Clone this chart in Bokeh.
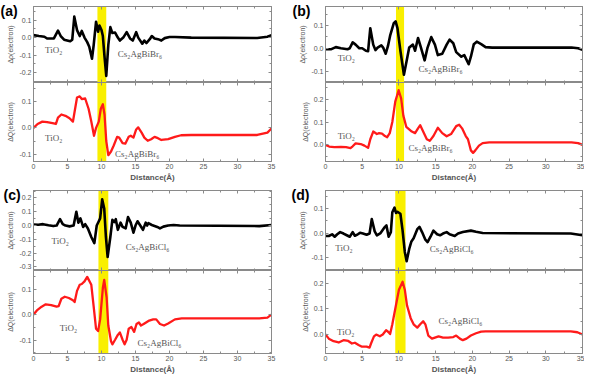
from bokeh.plotting import figure
from bokeh.layouts import row, column
from bokeh.models import Range1d, LinearAxis, FixedTicker, BoxAnnotation, Label, NumeralTickFormatter, Title
from bokeh.embed import file_html
from bokeh.resources import INLINE

# ---------------- data ----------------
x_ticks = [0, 5, 10, 15, 20, 25, 30, 35]

# (a) Cs2AgBiBr6 (top: delta rho, bottom: delta Q)
a_rho_x = [0, 0.8, 1.6, 2.0, 3.0, 3.6, 4.0, 4.5, 5.4, 5.7, 6.0, 6.4, 6.8, 7.1, 7.5, 7.9, 8.2, 8.6, 8.85,
           9.2, 9.5, 9.7, 10.0, 10.2, 10.45, 10.7, 11.0, 11.3, 11.6, 12.0, 12.4, 12.7, 13.2, 13.7, 14.2,
           14.6, 15.1, 15.4, 16.0, 16.3, 16.6, 17.1, 17.4, 17.8, 18.3, 18.8, 19.3, 20.0, 20.8, 23.2,
           32.9, 34.4, 35]
a_rho_y = [0.014, 0.009, 0.005, -0.005, -0.005, 0.040, 0.009, -0.012, -0.021, -0.012, 0.120, 0.043,
           0.009, 0.038, 0.0, -0.026, -0.052, -0.121, -0.043, 0.091, 0.034, 0.069, 0.043, 0.009, -0.112,
           -0.219, -0.043, 0.060, 0.026, 0.029, 0.0, -0.017, 0.0, 0.031, -0.005, -0.017, 0.031, 0.0,
           -0.035, -0.017, -0.031, -0.009, 0.009, -0.005, -0.009, -0.017, -0.003, 0.003, 0.003, 0.0,
           -0.002, 0.005, 0.014]
a_q_x = [0, 0.6, 1.3, 2.0, 2.8, 3.3, 3.6, 4.1, 4.7, 5.3, 5.8, 6.0, 6.4, 6.8, 7.1, 7.6, 8.1, 8.5, 8.9,
         9.2, 9.6, 9.9, 10.2, 10.45, 10.7, 11.0, 11.4, 11.8, 12.3, 12.6, 13.1, 13.5, 14.0, 14.3, 14.7,
         15.1, 15.4, 15.9, 16.3, 16.8, 17.3, 17.8, 18.3, 18.8, 19.8, 20.8, 21.7, 23.2, 32.9, 34.4, 35]
a_q_y = [0.0, 0.015, 0.024, 0.022, 0.018, 0.015, 0.039, 0.051, 0.046, 0.037, 0.024, 0.055, 0.116, 0.12,
         0.11, 0.112, 0.073, 0.024, -0.03, 0.0, 0.024, 0.073, 0.09, 0.05, -0.05, -0.104, -0.09, -0.067,
         -0.034, -0.037, -0.058, -0.06, -0.034, -0.03, -0.037, -0.006, 0.002, -0.018, -0.037, -0.049,
         -0.043, -0.034, -0.039, -0.046, -0.043, -0.034, -0.028, -0.027, -0.027, -0.018, -0.002]

# (b) Cs2AgBiBr6
b_rho_x = [0, 0.8, 1.4, 2.1, 3.0, 3.3, 3.7, 4.1, 4.6, 5.0, 5.5, 5.8, 6.1, 6.5, 6.8, 7.1, 7.6, 7.85, 8.2,
           8.5, 8.8, 9.3, 9.55, 9.8, 10.2, 10.68, 11.0, 11.4, 11.9, 12.2, 12.6, 13.0, 13.5, 13.9, 14.4,
           14.9, 15.3, 15.9, 16.5, 16.9, 17.4, 17.8, 18.5, 18.9, 19.5, 19.8, 20.2, 20.6, 21.2, 21.8,
           22.7, 33.5, 34.4, 35]
b_rho_y = [-0.004, -0.004, 0.005, 0.0, -0.004, 0.0, 0.026, 0.016, 0.0, 0.0, -0.011, -0.013, 0.088,
           0.016, -0.008, 0.003, 0.013, 0.003, -0.024, 0.009, 0.055, 0.11, 0.118, 0.088, -0.011, -0.116,
           -0.063, 0.003, 0.016, -0.011, 0.045, 0.003, -0.053, 0.003, 0.049, 0.016, -0.03, -0.024, 0.016,
           0.038, 0.022, -0.017, -0.037, -0.030, -0.070, -0.037, 0.018, 0.029, 0.018, 0.005, 0.003,
           0.003, 0.0, -0.007]
b_q_x = [0, 0.5, 1.2, 2.1, 2.8, 3.4, 3.7, 4.1, 4.8, 5.3, 5.8, 6.1, 6.5, 7.0, 7.3, 7.7, 8.1, 8.4, 8.75,
         9.1, 9.5, 9.96, 10.3, 10.6, 11.0, 11.4, 11.75, 12.2, 12.6, 12.9, 13.3, 13.8, 14.2, 14.7, 15.3,
         15.9, 16.5, 17.1, 17.8, 18.2, 18.6, 19.1, 19.4, 19.8, 20.1, 20.4, 20.9, 21.4, 22.3, 33.5,
         34.4, 35]
b_q_y = [-0.001, -0.008, -0.011, -0.010, -0.011, -0.015, -0.007, 0.006, 0.003, -0.004, -0.014, 0.024,
         0.058, 0.047, 0.051, 0.049, 0.038, 0.033, 0.051, 0.10, 0.19, 0.24, 0.204, 0.128, 0.079, 0.068,
         0.058, 0.051, 0.072, 0.086, 0.058, 0.024, 0.017, 0.038, 0.075, 0.051, 0.037, 0.047, 0.082,
         0.088, 0.072, 0.038, 0.024, -0.025, -0.036, -0.025, -0.004, 0.007, 0.010, 0.010, 0.007, -0.001]

# (c) Cs2AgBiCl6
c_rho_x = [0, 0.7, 1.4, 2.2, 2.9, 3.4, 3.9, 4.3, 4.7, 5.3, 5.9, 6.3, 6.6, 6.9, 7.3, 7.6, 8.0, 8.5, 8.95,
           9.3, 9.6, 9.8, 10.1, 10.4, 10.65, 10.9, 11.3, 11.6, 11.9, 12.1, 12.4, 12.8, 13.1, 13.55, 13.9,
           14.3, 14.7, 15.0, 15.3, 15.7, 16.1, 16.5, 16.7, 16.9, 17.4, 18.2, 18.6, 19.1, 19.8, 20.6,
           21.5, 33.2, 35]
c_rho_y = [0.008, 0.006, 0.010, 0.002, -0.004, 0.0, 0.046, 0.010, 0.0, -0.006, 0.0, 0.10, 0.021, 0.052,
           -0.010, 0.010, -0.021, -0.083, -0.128, 0.0, 0.031, 0.052, 0.19, 0.124, -0.083, -0.228, -0.083,
           0.041, 0.025, 0.046, -0.031, 0.021, -0.010, -0.021, 0.062, 0.021, -0.052, 0.0, 0.031, 0.0,
           -0.031, 0.021, 0.0, 0.017, 0.004, -0.010, -0.021, -0.008, 0.0, 0.004, 0.0, -0.004, 0.004]
c_q_x = [0, 0.5, 1.2, 1.8, 2.6, 3.4, 3.7, 4.1, 4.6, 5.2, 5.8, 6.05, 6.4, 6.8, 7.1, 7.5, 7.9, 8.5, 8.85,
         9.2, 9.5, 9.8, 10.2, 10.4, 10.75, 11.0, 11.4, 11.6, 12.0, 12.4, 12.7, 13.1, 13.4, 13.7, 14.0,
         14.4, 14.8, 15.15, 15.5, 15.8, 16.2, 16.9, 17.6, 18.05, 18.6, 19.2, 19.8, 20.8, 21.8, 33.2,
         34.4, 35]
c_q_y = [0.0, 0.016, 0.031, 0.040, 0.037, 0.031, 0.033, 0.062, 0.070, 0.065, 0.056, 0.049, 0.093, 0.117,
         0.12, 0.13, 0.148, 0.117, 0.031, -0.056, -0.065, -0.019, 0.105, 0.136, 0.068, -0.043, -0.105,
         -0.117, -0.099, -0.080, -0.070, -0.099, -0.117, -0.099, -0.056, -0.049, -0.068, -0.037, -0.031,
         -0.043, -0.037, -0.025, -0.019, -0.019, -0.037, -0.043, -0.035, -0.019, -0.015, -0.015, -0.012,
         0.0]

# (d) Cs2AgBiCl6
d_rho_x = [0, 0.45, 0.9, 1.25, 1.6, 2.0, 2.45, 2.9, 3.3, 3.7, 4.0, 4.4, 4.7, 5.1, 5.6, 6.0, 6.3, 6.7,
           7.0, 7.5, 8.0, 8.3, 8.6, 8.9, 9.1, 9.4, 9.6, 9.8, 10.2, 10.5, 10.8, 11.05, 11.4, 11.7, 12.0,
           12.5, 12.8, 13.15, 13.6, 13.9, 14.3, 14.7, 15.2, 15.6, 16.0, 16.5, 16.9, 17.6, 18.05, 18.7,
           19.8, 20.5, 21.4, 33.4, 35]
d_rho_y = [-0.012, -0.012, -0.005, -0.015, -0.005, 0.004, -0.002, -0.009, -0.015, 0.004, -0.011, -0.005,
           0.001, -0.002, -0.007, -0.002, 0.057, 0.007, -0.009, 0.0, 0.022, 0.031, -0.015, 0.004, 0.085,
           0.104, 0.082, 0.087, 0.079, 0.01, -0.077, -0.115, -0.065, -0.034, -0.021, 0.016, 0.025, 0.004,
           -0.027, -0.037, -0.015, 0.01, -0.005, -0.009, -0.002, 0.004, -0.005, -0.012, -0.002, 0.004,
           0.01, 0.005, 0.0, -0.002, -0.009]
d_q_x = [0, 0.45, 1.1, 1.8, 2.45, 3.1, 3.6, 4.0, 4.5, 4.9, 5.6, 6.0, 6.2, 6.6, 6.9, 7.4, 7.8, 8.25, 8.6,
         8.8, 9.1, 9.6, 10.0, 10.5, 10.8, 11.1, 11.6, 12.0, 12.5, 12.9, 13.3, 13.6, 14.0, 14.5, 14.9,
         15.4, 16.0, 16.7, 17.4, 17.8, 18.3, 18.7, 19.2, 19.8, 20.5, 21.2, 21.8, 33.4, 34.3, 35]
d_q_y = [0.0, -0.016, -0.026, -0.031, -0.022, -0.025, -0.035, -0.032, -0.041, -0.047, -0.047, -0.051,
         -0.035, -0.007, 0.0, -0.007, 0.0, 0.017, 0.009, 0.002, 0.040, 0.115, 0.175, 0.206, 0.175, 0.114,
         0.064, 0.040, 0.027, 0.040, 0.052, 0.040, -0.004, -0.016, -0.012, -0.007, -0.012, -0.012, -0.010,
         -0.004, -0.016, -0.022, -0.016, -0.004, 0.005, 0.011, 0.012, 0.012, 0.009, 0.0]

# y tick values per sub-plot
a_rho_ticks = [-0.2, -0.1, 0.0, 0.1]
a_q_ticks = [-0.1, 0.0, 0.1]
b_rho_ticks = [-0.1, 0.0, 0.1]
b_q_ticks = [0.0, 0.1, 0.2]
c_rho_ticks = [-0.3, -0.2, -0.1, 0.0, 0.1, 0.2]
c_q_ticks = [-0.1, 0.0, 0.1]
d_rho_ticks = [-0.1, 0.0, 0.1]
d_q_ticks = [0.0, 0.1, 0.2]

# interface band (Angstrom)
a_band = [9.4, 10.7]
b_band = [9.6, 10.7]
c_band = [9.55, 11.0]
d_band = [9.5, 10.9]

# annotation texts and positions (data coordinates)
br_name = "Cs₂AgBiBr₆"
cl_name = "Cs₂AgBiCl₆"
tio2 = "TiO₂"
a_rho_notes = [(tio2, 1.7, -0.069), (br_name, 12.4, -0.095)]
a_q_notes = [(tio2, 1.7, -0.039), (br_name, 12.0, -0.098)]
b_rho_notes = [(tio2, 1.66, -0.041), (br_name, 12.65, -0.092)]
b_q_notes = [(tio2, 1.66, 0.0375), (br_name, 11.3, -0.014)]
c_rho_notes = [(tio2, 2.66, -0.114), (cl_name, 13.55, -0.155)]
c_q_notes = [(tio2, 3.87, -0.053), (cl_name, 15.3, -0.111)]
d_rho_notes = [(tio2, 1.34, -0.0625), (cl_name, 14.2, -0.065)]
d_q_notes = [(tio2, 1.56, 0.009), (cl_name, 15.4, 0.052)]

# ---------------- styling ----------------
AX = "#8a8a8a"
TXT = "#555555"
YEL = "#f9ef00"


def minor_of(ticks, step):
    lo, hi = min(ticks) - step, max(ticks) + step
    out = []
    v = lo
    while v <= hi + 1e-9:
        out.append(round(v + step / 2, 4))
        v += step
    return out


def add_axis(p, place, ticks, minor, labels, title=None, fmt=None):
    ax = LinearAxis(ticker=FixedTicker(ticks=ticks, minor_ticks=minor))
    ax.axis_line_color = AX
    ax.axis_line_width = 1
    ax.major_tick_line_color = AX
    ax.minor_tick_line_color = AX
    ax.major_tick_in = 3
    ax.major_tick_out = 0
    ax.minor_tick_in = 2
    ax.minor_tick_out = 0
    ax.major_label_text_font = "Liberation Sans"
    if labels:
        ax.major_label_text_font_size = "7px"
        ax.major_label_text_color = TXT
        ax.major_label_standoff = 2
        if fmt is not None:
            ax.formatter = fmt
    else:
        ax.major_label_text_font_size = "1px"
        ax.major_label_text_color = None
        ax.major_label_standoff = 0
    if title:
        ax.axis_label = title
        ax.axis_label_text_font = "Liberation Sans"
        ax.axis_label_text_color = TXT
        ax.axis_label_standoff = 2
        if place == "below":
            ax.axis_label_text_font_size = "8px"
            ax.axis_label_text_font_style = "bold"
            ax.axis_label_standoff = 1
        else:
            ax.axis_label_text_font_size = "7px"
            ax.axis_label_text_font_style = "normal"
    p.add_layout(ax, place)
    return ax


def make_sub(w, h, bl, br, bt, bb, yr, xs, ys, color, lw, yticks, band, notes, ytitle, bottom):
    p = figure(width=w, height=h, x_range=Range1d(0, 35), y_range=Range1d(*yr),
               output_backend="svg", toolbar_location=None,
               x_axis_location=None, y_axis_location=None,
               min_border_left=bl, min_border_right=br, min_border_top=bt, min_border_bottom=bb)
    p.outline_line_color = AX
    p.outline_line_width = 1
    p.grid.visible = False
    p.background_fill_color = "white"
    p.border_fill_color = "white"
    p.add_layout(BoxAnnotation(left=band[0], right=band[1], fill_color=YEL, fill_alpha=1.0,
                               line_color=None, level="underlay"))
    p.line(xs, ys, line_color=color, line_width=lw, line_join="round", line_cap="round")
    xminor = minor_of(x_ticks, 5)
    yminor = minor_of(yticks, 0.1)
    fmt = NumeralTickFormatter(format="0.0")
    add_axis(p, "left", yticks, yminor, True, ytitle, fmt=fmt)
    add_axis(p, "right", yticks, yminor, False)
    add_axis(p, "above", x_ticks, xminor, False)
    if bottom:
        add_axis(p, "below", x_ticks, xminor, True, "Distance(Å)")
    else:
        add_axis(p, "below", x_ticks, xminor, False)
    for t, x, y in notes:
        p.add_layout(Label(x=x, y=y, text=t, text_font="Liberation Serif", text_font_size="9px",
                           text_color=TXT, text_baseline="middle", text_align="left"))
    return p


def panel_letter(p, txt, offset):
    # two-line title (empty first line) with negative standoff: takes ~no room and
    # puts the letter beside the top-left corner of the frame
    t = Title(text="\n" + txt, align="left", offset=offset, standoff=-28, vertical_align="top",
              text_line_height=1.0,
              text_font="Liberation Sans", text_font_size="14px", text_font_style="bold",
              text_color="black")
    p.add_layout(t, "above")


RHO = "Δρ(electron)"
QQ = "ΔQ(electron)"

# left column
a_top = make_sub(290, 82, 33, 19, 1, 0, (-0.257, 0.178), a_rho_x, a_rho_y, "black", 2.6,
                 a_rho_ticks, a_band, a_rho_notes, RHO, False)
a_bot = make_sub(290, 102, 33, 19, 0, 22, (-0.128, 0.173), a_q_x, a_q_y, "#ff1a1a", 2.3,
                 a_q_ticks, a_band, a_q_notes, QQ, True)
c_top = make_sub(290, 86, 30, 19, 2, 0, (-0.326, 0.254), c_rho_x, c_rho_y, "black", 2.6,
                 c_rho_ticks, c_band, c_rho_notes, RHO, False)
c_bot = make_sub(290, 106, 30, 19, 0, 22, (-0.153, 0.173), c_q_x, c_q_y, "#ff1a1a", 2.3,
                 c_q_ticks, c_band, c_q_notes, QQ, True)
# right column
b_top = make_sub(294, 82, 35, 2, 1, 0, (-0.15, 0.183), b_rho_x, b_rho_y, "black", 2.6,
                 b_rho_ticks, b_band, b_rho_notes, RHO, False)
b_bot = make_sub(294, 102, 35, 2, 0, 22, (-0.074, 0.274), b_q_x, b_q_y, "#ff1a1a", 2.3,
                 b_q_ticks, b_band, b_q_notes, QQ, True)
d_top = make_sub(294, 86, 34, 1, 2, 0, (-0.153, 0.174), d_rho_x, d_rho_y, "black", 2.6,
                 d_rho_ticks, d_band, d_rho_notes, RHO, False)
d_bot = make_sub(294, 106, 34, 1, 0, 22, (-0.074, 0.25), d_q_x, d_q_y, "#ff1a1a", 2.3,
                 d_q_ticks, d_band, d_q_notes, QQ, True)

panel_letter(a_top, "(a)", -33)
panel_letter(b_top, "(b)", -33)
panel_letter(c_top, "(c)", -30)
panel_letter(d_top, "(d)", -34)

layout = row(column(a_top, a_bot, c_top, c_bot, spacing=0),
             column(b_top, b_bot, d_top, d_bot, spacing=0), spacing=0)

open("out.html", "w").write(file_html(layout, INLINE))
